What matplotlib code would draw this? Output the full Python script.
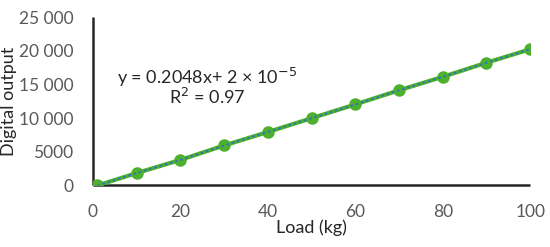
import matplotlib.pyplot as plt

plt.rcParams['font.family'] = ['Lato', 'DejaVu Sans']

load_kg = [1, 10, 20, 30, 40, 50, 60, 70, 80, 90, 100]
digital_output = [0, 1850, 3800, 5950, 7950, 10000, 12050, 14150, 16150, 18250, 20250]
x_ticks = [0, 20, 40, 60, 80, 100]
y_ticks = [0, 5000, 10000, 15000, 20000, 25000]
y_tick_labels = ["0", "5000", "10 000", "15 000", "20 000", "25 000"]

fig = plt.figure(figsize=(5.5, 2.47), dpi=100)
ax = fig.add_axes([0.169, 0.249, 0.795, 0.681])

# data with markers, trendline dotted on top
ax.plot(load_kg, digital_output, color="#4db02e", linewidth=3.0,
        marker="o", markersize=8, zorder=3)
ax.plot(load_kg, digital_output, color="#2e75b6", linewidth=1.3,
        linestyle=(0, (1.5, 1.5)), zorder=4)

ax.set_xlim(0, 100)
ax.set_ylim(0, 25000)
ax.set_xticks(x_ticks)
ax.set_yticks(y_ticks)
ax.set_yticklabels(y_tick_labels)
ax.tick_params(length=0, labelsize=12.5, colors="#595959")
ax.tick_params(axis="x", pad=13)
ax.tick_params(axis="y", pad=14)

for s in ["top", "right"]:
    ax.spines[s].set_visible(False)
for s in ["left", "bottom"]:
    ax.spines[s].set_linewidth(1.8)
    ax.spines[s].set_color("#262626")
    ax.spines[s].set_capstyle("butt")

ax.set_xlabel("Load (kg)", fontsize=13, color="#262626", labelpad=0)
ax.set_ylabel("Digital output", fontsize=13, color="#262626", labelpad=1)

ax.text(0.262, 0.643, r"y = 0.2048x+ 2 × 10$^{-5}$", transform=ax.transAxes,
        ha="center", va="center", fontsize=13, color="#262626")
ax.text(0.262, 0.524, r"R$^2$ = 0.97", transform=ax.transAxes,
        ha="center", va="center", fontsize=13, color="#262626")

plt.savefig("out.png", dpi=100)
